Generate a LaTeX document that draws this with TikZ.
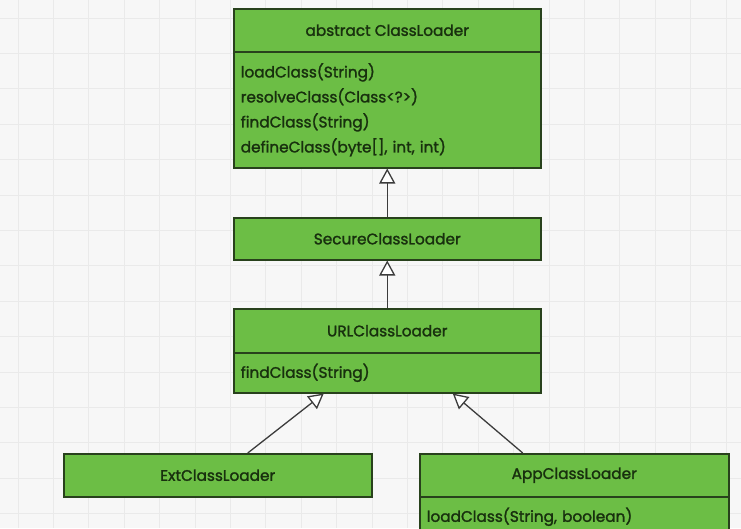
\documentclass[tikz,border=0pt]{standalone}
\usepackage{fontspec}
\setmainfont{Poppins}[FakeBold=1.6]
\usetikzlibrary{arrows.meta}
\definecolor{boxgreen}{RGB}{108,190,69}
\definecolor{boxline}{RGB}{40,65,28}
\definecolor{txt}{RGB}{24,48,14}
\definecolor{bg}{RGB}{247,247,247}
\definecolor{gridc}{RGB}{234,234,234}
\definecolor{arrowc}{RGB}{60,60,60}
\begin{document}
\begin{tikzpicture}[x=1pt,y=-1pt,
  umlpart/.style={draw=boxline, fill=boxgreen, line width=1.5pt, rectangle, anchor=north west,
    inner xsep=7pt, inner ysep=0pt, text=txt, font=\fontsize{15.3}{25}\selectfont},
  hdr/.style={umlpart, align=center},
  mth/.style={umlpart, align=left},
  inh/.style={draw=arrowc, line width=1.3pt, -{Triangle[open, length=15pt, width=16pt, fill=white]}}]
\useasboundingbox (0,0) rectangle (741,528);
\clip (0,0) rectangle (741,528);
\fill[bg] (0,0) rectangle (741,528);
\foreach \i in {0,...,20} \draw[gridc, line width=1pt] ({18+35.4*\i},0) -- ({18+35.4*\i},528);
\foreach \i in {0,...,14} \draw[gridc, line width=1pt] (0,{18+35.4*\i}) -- (741,{18+35.4*\i});

\node[hdr, minimum width=307pt, minimum height=43pt] (cl) at (233,8) {abstract ClassLoader};
\node[mth, minimum width=307pt, minimum height=116pt, text width=293pt] (clm) at (233,51)
  {loadClass(String)\\resolveClass(Class<?>)\\findClass(String)\\defineClass(byte[], int, int)};

\node[hdr, minimum width=307pt, minimum height=42pt] (sec) at (233,217) {SecureClassLoader};

\node[hdr, minimum width=307pt, minimum height=44pt] (url) at (233,308) {URLClassLoader};
\node[mth, minimum width=307pt, minimum height=40pt, text width=293pt] (urlm) at (233,352) {findClass(String)};

\node[hdr, minimum width=308pt, minimum height=43pt] (ext) at (63,453) {ExtClassLoader};

\node[hdr, minimum width=309pt, minimum height=43pt] (app) at (419,453) {AppClassLoader};
\node[mth, minimum width=309pt, minimum height=40pt, text width=295pt] (appm) at (419,496) {loadClass(String, boolean)};

\draw[inh] (sec.north) -- (clm.south);
\draw[inh] (url.north) -- (sec.south);
\draw[inh] ([xshift=30pt]ext.north) -- ([xshift=-63.5pt]urlm.south);
\draw[inh] ([xshift=-51.5pt]app.north) -- ([xshift=65.5pt]urlm.south);
\end{tikzpicture}
\end{document}
